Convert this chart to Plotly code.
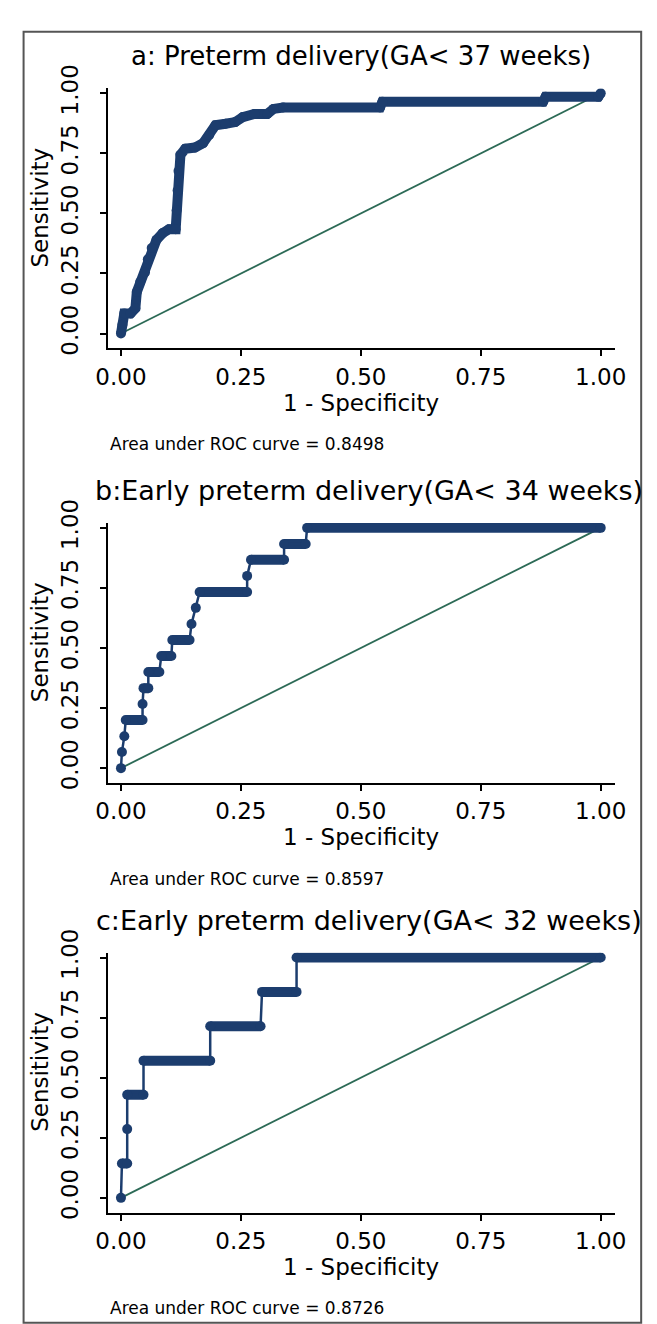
import plotly.graph_objects as go

# ---------------- data ----------------
titles = ["a: Preterm delivery(GA< 37 weeks)",
          "b:Early preterm delivery(GA< 34 weeks)",
          "c:Early preterm delivery(GA< 32 weeks)"]
auc_values = [0.8498, 0.8597, 0.8726]
tick_vals = [0, 0.25, 0.5, 0.75, 1.0]
tick_text = ["0.00", "0.25", "0.50", "0.75", "1.00"]
x_title = "1 - Specificity"
y_title = "Sensitivity"

# panel a (1 - specificity, sensitivity)
a_fpr = [0.000, 0.003, 0.007, 0.020, 0.030, 0.033, 0.040, 0.050, 0.056, 0.064,
         0.074, 0.087, 0.100, 0.114, 0.116, 0.118, 0.120, 0.124, 0.134, 0.154,
         0.171, 0.184, 0.197, 0.218, 0.238, 0.254, 0.278, 0.305, 0.318, 0.338,
         0.540, 0.545, 0.880, 0.885, 0.995, 1.000]
a_tpr = [0.000, 0.037, 0.084, 0.084, 0.105, 0.173, 0.214, 0.254, 0.309, 0.356,
         0.390, 0.418, 0.434, 0.434, 0.513, 0.595, 0.676, 0.744, 0.769, 0.774,
         0.792, 0.826, 0.867, 0.873, 0.880, 0.901, 0.914, 0.914, 0.935, 0.941,
         0.941, 0.965, 0.965, 0.985, 0.985, 1.000]

# panel b
b_fpr = [0.000, 0.002, 0.007, 0.010, 0.045, 0.045, 0.047, 0.057, 0.057, 0.080,
         0.084, 0.105, 0.107, 0.143, 0.147, 0.156, 0.164, 0.263, 0.263, 0.271,
         0.340, 0.340, 0.385, 0.388, 1.000]
b_tpr = [0.000, 0.067, 0.133, 0.200, 0.200, 0.267, 0.333, 0.333, 0.400, 0.400,
         0.467, 0.467, 0.533, 0.533, 0.600, 0.667, 0.733, 0.733, 0.800, 0.867,
         0.867, 0.933, 0.933, 1.000, 1.000]

# panel c
c_fpr = [0.000, 0.002, 0.013, 0.013, 0.013, 0.047, 0.047, 0.186, 0.186, 0.291,
         0.294, 0.366, 0.366, 1.000]
c_tpr = [0.000, 0.143, 0.143, 0.286, 0.429, 0.429, 0.571, 0.571, 0.714, 0.714,
         0.857, 0.857, 1.000, 1.000]

curves = [(a_fpr, a_tpr), (b_fpr, b_tpr), (c_fpr, c_tpr)]
ref_line = [0, 1]

# ---------------- style / layout ----------------
W, H = 657, 1324
NAVY = "#1c3d6e"
GREEN = "#2c6a56"
FONT = "DejaVu Sans"
offsets = [0, 445, 885]
title_x = [362, 370, 370]
title_size = [26, 27, 27]


def px(x):
    return x / W


def py(y):
    return 1 - y / H


fig = go.Figure()
for i, (fx, ty) in enumerate(curves):
    xa = "x" if i == 0 else f"x{i+1}"
    ya = "y" if i == 0 else f"y{i+1}"
    fig.add_trace(go.Scatter(x=ref_line, y=ref_line, mode="lines",
                             line=dict(color=GREEN, width=1.8),
                             xaxis=xa, yaxis=ya, hoverinfo="skip"))
    if i == 0:
        fig.add_trace(go.Scatter(x=fx, y=ty, mode="lines+markers",
                                 line=dict(color=NAVY, width=10),
                                 marker=dict(color=NAVY, size=10),
                                 xaxis=xa, yaxis=ya))
    else:
        # horizontal runs (many tied points) drawn as a thick band
        bx, by = [], []
        for k in range(len(fx) - 1):
            if ty[k] == ty[k + 1]:
                bx += [fx[k], fx[k + 1], None]
                by += [ty[k], ty[k + 1], None]
        fig.add_trace(go.Scatter(x=bx, y=by, mode="lines",
                                 line=dict(color=NAVY, width=10),
                                 xaxis=xa, yaxis=ya, hoverinfo="skip"))
        fig.add_trace(go.Scatter(x=fx, y=ty, mode="lines+markers",
                                 line=dict(color=NAVY, width=2.5),
                                 marker=dict(color=NAVY, size=10),
                                 xaxis=xa, yaxis=ya))

layout = dict(width=W, height=H, margin=dict(l=0, r=0, t=0, b=0),
              paper_bgcolor="white", plot_bgcolor="white", showlegend=False,
              font=dict(family=FONT, color="black"))

axis_common = dict(showline=True, linecolor="black", linewidth=2,
                   ticks="outside", ticklen=6, tickwidth=2, tickcolor="black",
                   tickvals=tick_vals, ticktext=tick_text, showgrid=False,
                   zeroline=False, tickfont=dict(family=FONT, size=23, color="black"))

annotations = []
for i in range(3):
    off = offsets[i]
    bottom, top = 332 + off, 66 + off
    sfx = "" if i == 0 else str(i + 1)
    layout["xaxis" + sfx] = dict(axis_common, domain=[px(99), px(625)],
                                 range=[-0.028, 1.03], anchor="y" + sfx,
                                 ticklabelstandoff=1)
    layout["yaxis" + sfx] = dict(axis_common, domain=[py(bottom), py(top)],
                                 range=[-0.061, 1.02], anchor="x" + sfx,
                                 tickangle=-90, ticklabelstandoff=12)
    annotations.append(dict(text=titles[i], x=px(title_x[i]), y=py(33 + off),
                            xref="paper", yref="paper", showarrow=False,
                            xanchor="center", yanchor="middle",
                            font=dict(family=FONT, size=title_size[i], color="black")))
    annotations.append(dict(text=y_title, x=px(29), y=py(188 + off),
                            xref="paper", yref="paper", showarrow=False,
                            textangle=-90, xanchor="center", yanchor="middle",
                            font=dict(family=FONT, size=23, color="black")))
    annotations.append(dict(text=x_title, x=px(362), y=py(388 + off),
                            xref="paper", yref="paper", showarrow=False,
                            xanchor="center", yanchor="middle",
                            font=dict(family=FONT, size=23, color="black")))
    annotations.append(dict(text=f"Area under ROC curve = {auc_values[i]:.4f}",
                            x=px(100), y=py(430 + off),
                            xref="paper", yref="paper", showarrow=False,
                            xanchor="left", yanchor="middle",
                            font=dict(family=FONT, size=17, color="black")))

layout["annotations"] = annotations
layout["shapes"] = [dict(type="rect", xref="paper", yref="paper",
                         x0=px(12), x1=px(652), y0=py(1330), y1=py(8),
                         line=dict(color="#555555", width=2))]

fig.update_layout(**layout)
fig.write_html("out.html", config={"displayModeBar": False},
               post_script="document.body.style.margin='0';document.body.style.overflow='hidden';")
